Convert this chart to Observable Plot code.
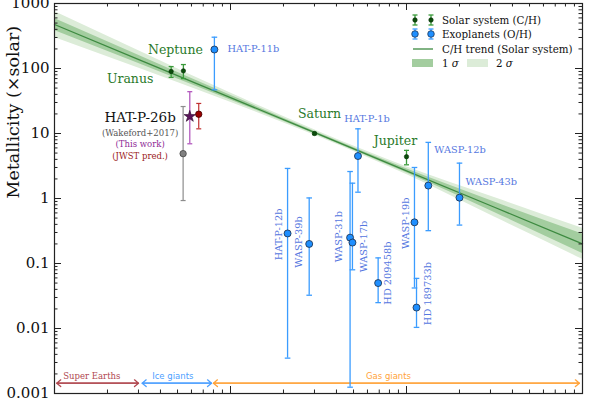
<!DOCTYPE html>
<html><head><meta charset="utf-8">
<script src="https://cdn.jsdelivr.net/npm/d3@7"></script>
<script src="https://cdn.jsdelivr.net/npm/@observablehq/plot@0.6"></script>
<style>
body{margin:0;background:#fff}
#wrap{position:relative;width:598px;height:399px;overflow:hidden;background:#fff}
.leg{position:absolute;font-family:"DejaVu Serif",serif;font-size:10.3px;color:#111;white-space:nowrap;line-height:14px;height:14px}
.leg svg{position:absolute;top:0}
</style></head><body><div id="wrap"></div>
<script>
// ---------- data ----------
const ssNames = ["Uranus", "Neptune", "Saturn", "Jupiter"];
const ssMass  = [0.046, 0.054, 0.30, 1.0];
const ssMet   = [90, 92, 10, 4.4];
const ssLo    = [73, 70, 9.6, 3.3];
const ssHi    = [107, 115, 10.4, 5.5];

const exoNames = ["HAT-P-11b", "HAT-P-12b", "WASP-39b", "WASP-31b", "WASP-17b", "HAT-P-1b", "HD 209458b", "WASP-19b", "HD 189733b", "WASP-12b", "WASP-43b"];
const exoMass  = [0.081, 0.211, 0.28, 0.478, 0.493, 0.53, 0.69, 1.11, 1.14, 1.33, 2.0];
const exoMet   = [196, 0.29, 0.20, 0.25, 0.21, 4.5, 0.05, 0.43, 0.021, 1.58, 1.03];
const exoLo    = [47, 0.0035, 0.0325, 0.00125, 0.08, 1.25, 0.025, 0.042, 0.0104, 0.32, 0.39];
const exoHi    = [303, 2.9, 1.02, 2.6, 1.72, 11.8, 0.122, 3.0, 0.059, 7.3, 3.5];

const hpNames = ["Wakeford+2017", "This work", "JWST pred."];
const hpMass  = [0.0538, 0.0587, 0.066];
const hpMet   = [4.9, 18.3, 19.8];
const hpLo    = [0.93, 6.95, 11.8];
const hpHi    = [26, 44, 29];

const trendMass = [0.01, 0.0316, 0.1, 0.316, 1, 3.16, 10];
const trendMet  = [475, 130, 35.6, 9.77, 2.67, 0.733, 0.201];
const sig1Lo    = [385, 113.5, 32.9, 9.33, 2.49, 0.61, 0.142];
const sig1Hi    = [588, 150, 38.6, 10.2, 2.86, 0.881, 0.284];
const sig2Lo    = [300, 96.6, 30.3, 8.9, 2.33, 0.519, 0.116];
const sig2Hi    = [753, 176, 41.9, 10.7, 3.07, 1.035, 0.349];

const classNames = ["Super Earths", "Ice giants", "Gas giants"];
const classStart = [0.0103, 0.0315, 0.080];
const classEnd   = [0.0300, 0.078, 9.6];
const classLabelMass = [0.0163, 0.047, 0.79];
const classArrowMet = 0.00144;
const classLabelMet = 0.00187;

const yTicks = [0.001, 0.01, 0.1, 1, 10, 100, 1000];
const yTickLabels = ["0.001", "0.01", "0.1", "1", "10", "100", "1000"];
const xTicks = [0.01, 0.1, 1, 10];
const minorMult = [2, 3, 4, 5, 6, 7, 8, 9];

// ---------- tables ----------
const ss = ssNames.map((n, i) => ({name: n, m: ssMass[i], v: ssMet[i], lo: ssLo[i], hi: ssHi[i]}));
const exo = exoNames.map((n, i) => ({name: n, m: exoMass[i], v: exoMet[i], lo: exoLo[i], hi: exoHi[i]}));
const hp = hpNames.map((n, i) => ({name: n, m: hpMass[i], v: hpMet[i], lo: hpLo[i], hi: hpHi[i]}));
const trend = trendMass.map((m, i) => ({m, v: trendMet[i], l1: sig1Lo[i], h1: sig1Hi[i], l2: sig2Lo[i], h2: sig2Hi[i]}));
const classes = classNames.map((n, i) => ({name: n, a: classStart[i], b: classEnd[i], lm: classLabelMass[i]}));
const yMinor = yTicks.slice(0, -1).flatMap(t => minorMult.map(k => t * k));
const xMinor = xTicks.slice(0, -1).flatMap(t => minorMult.map(k => t * k));

// ---------- styles ----------
const FONT = "DejaVu Serif";
const C = {
  green: "#3a9a3a", greenDot: "#0b4d0b", greenText: "#2a7a2a", trend: "#3d8a40",
  s1: "#a3cd9f", s2: "#dcecd8",
  blue: "#3b9cff", blueDot: "#1f8fff", blueText: "#5577e0",
  gray: "#8c8c8c", purple: "#b45bbf", red: "#c03030",
  classColors: ["#b0474f", "#4da0ff", "#ffa33a"]
};
const capSym = {draw(ctx, size) { const w = Math.sqrt(size / Math.PI); ctx.moveTo(-w, 0); ctx.lineTo(w, 0); }};

const ssLabelOff = {Uranus: [-41, 8], Neptune: [-8, -21], Saturn: [5, -20], Jupiter: [-11, -16]};
const exoLabelOff = {
  "HAT-P-11b": [13, -1, 0, "start"], "HAT-P-1b": [9, -37, 0, "middle"], "WASP-12b": [6, -36, 0, "start"],
  "WASP-43b": [6, -16, 0, "start"], "HAT-P-12b": [-9, 1, -90, "middle"], "WASP-39b": [-10, -2, -90, "middle"],
  "WASP-31b": [-11, -1, -90, "middle"], "WASP-17b": [11, 4, -90, "middle"], "HD 209458b": [10, -10, -90, "middle"],
  "WASP-19b": [-9, 1, -90, "middle"], "HD 189733b": [11, -14, -90, "middle"]
};

const PW = 598 - 54 - 16, PH = 399 - 3 - 6;

function errorMarks(data, color, capR, sw) {
  return [
    Plot.ruleX(data, {x: "m", y1: "lo", y2: "hi", stroke: color, strokeWidth: sw}),
    Plot.dot(data, {x: "m", y: "lo", symbol: capSym, r: capR, stroke: color, strokeWidth: sw}),
    Plot.dot(data, {x: "m", y: "hi", symbol: capSym, r: capR, stroke: color, strokeWidth: sw})
  ];
}

const chart = Plot.plot({
  width: 598, height: 399,
  marginLeft: 54, marginRight: 16, marginTop: 3, marginBottom: 6,
  x: {type: "log", domain: [0.01, 10], axis: null},
  y: {type: "log", domain: [0.001, 1000], axis: null},
  style: {fontFamily: FONT, background: "white", overflow: "visible"},
  marks: [
    Plot.areaY(trend, {x: "m", y1: "l2", y2: "h2", fill: C.s2, curve: "monotone-x"}),
    Plot.areaY(trend, {x: "m", y1: "l1", y2: "h1", fill: C.s1, curve: "monotone-x"}),
    Plot.line(trend, {x: "m", y: "v", stroke: C.trend, strokeWidth: 1.3}),

    // class arrows
    Plot.arrow(classes, {x1: "a", x2: "b", y1: classArrowMet, y2: classArrowMet, stroke: (d, i) => C.classColors[i], strokeWidth: 1.3, headLength: 6, headAngle: 80}),
    Plot.arrow(classes, {x1: "b", x2: "a", y1: classArrowMet, y2: classArrowMet, stroke: (d, i) => C.classColors[i], strokeWidth: 1.3, headLength: 6, headAngle: 80}),
    ...classes.map((d, i) => Plot.text([d], {x: "lm", y: classLabelMet, text: "name", fill: C.classColors[i], fontSize: 8.5, fontFamily: i === 0 ? FONT : "DejaVu Sans"})),

    // error bars
    ...errorMarks(exo, C.blue, 2.8, 1.3),
    ...errorMarks(ss, C.green, 2.5, 1.3),
    ...errorMarks([hp[0]], C.gray, 2.5, 1.2),
    ...errorMarks([hp[1]], C.purple, 2.5, 1.3),
    ...errorMarks([hp[2]], C.red, 2.5, 1.2),

    // points
    Plot.dot(exo, {x: "m", y: "v", r: 3.5, fill: C.blueDot, stroke: "#1b2b44", strokeWidth: 0.8}),
    Plot.dot(ss, {x: "m", y: "v", r: 2.2, fill: C.greenDot, stroke: "#062e06", strokeWidth: 0.6}),
    Plot.dot([hp[0]], {x: "m", y: "v", r: 3.2, fill: "#808080", stroke: "#444", strokeWidth: 0.8}),
    Plot.dot([hp[1]], {x: "m", y: "v", r: 3.6, symbol: "star", fill: "#5c165c", stroke: "#2a0a2a", strokeWidth: 0.6}),
    Plot.dot([hp[2]], {x: "m", y: "v", r: 3.2, fill: "#9b0000", stroke: "#400", strokeWidth: 0.8}),

    // labels
    ...ss.map(d => Plot.text([d], {x: "m", y: "v", text: "name", dx: ssLabelOff[d.name][0], dy: ssLabelOff[d.name][1], fill: C.greenText, fontSize: 12.5})),
    ...exo.map(d => { const o = exoLabelOff[d.name]; return Plot.text([d], {x: "m", y: "v", text: "name", dx: o[0], dy: o[1], rotate: o[2], textAnchor: o[3], fill: C.blueText, fontSize: 9.8}); }),
    Plot.text([hp[0]], {x: "m", y: "v", text: () => "HAT-P-26b", dx: -43, dy: -36, fontSize: 13.5, fill: "#111"}),
    Plot.text([hp[0]], {x: "m", y: "v", text: d => `(${hpNames[0]})`, dx: -43, dy: -20.5, fontSize: 8.5, fill: "#555"}),
    Plot.text([hp[0]], {x: "m", y: "v", text: d => `(${hpNames[1]})`, dx: -43, dy: -9, fontSize: 8.5, fill: "#8e2a96"}),
    Plot.text([hp[0]], {x: "m", y: "v", text: d => `(${hpNames[2]})`, dx: -43, dy: 2.7, fontSize: 8.5, fill: "#9b1a1a"}),

    // ticks (inward)
    Plot.tickY(yTicks, {y: d => d, insetRight: PW - 7, stroke: "#222"}),
    Plot.tickY(yTicks, {y: d => d, insetLeft: PW - 7, stroke: "#222"}),
    Plot.tickY(yMinor, {y: d => d, insetRight: PW - 3.5, stroke: "#222"}),
    Plot.tickY(yMinor, {y: d => d, insetLeft: PW - 3.5, stroke: "#222"}),
    Plot.tickX(xTicks, {x: d => d, insetTop: PH - 7, stroke: "#222"}),
    Plot.tickX(xTicks, {x: d => d, insetBottom: PH - 7, stroke: "#222"}),
    Plot.tickX(xMinor, {x: d => d, insetTop: PH - 3.5, stroke: "#222"}),
    Plot.tickX(xMinor, {x: d => d, insetBottom: PH - 3.5, stroke: "#222"}),
    Plot.frame({stroke: "#222", strokeWidth: 1.2}),

    // y tick labels & axis label
    Plot.text(yTicks, {y: d => d, text: (d, i) => yTickLabels[i], frameAnchor: "left", textAnchor: "end", dx: -5, fontSize: 15, fill: "#111"}),
    Plot.text(["Metallicity (×solar)"], {text: d => d, frameAnchor: "left", rotate: -90, dx: -41, fontSize: 17.5, fill: "#111"})
  ]
});

const wrap = document.getElementById("wrap");
wrap.appendChild(chart);

// ---------- legend (HTML overlay) ----------
function errSwatch(color, dotFill, dotStroke, r) {
  let s = `<svg width="26" height="14" style="left:0">`;
  for (const cx of [5, 21]) {
    s += `<line x1="${cx}" x2="${cx}" y1="2" y2="12" stroke="${color}" stroke-width="1.3"/>`;
    s += `<line x1="${cx - 2.5}" x2="${cx + 2.5}" y1="2" y2="2" stroke="${color}" stroke-width="1.3"/>`;
    s += `<line x1="${cx - 2.5}" x2="${cx + 2.5}" y1="12" y2="12" stroke="${color}" stroke-width="1.3"/>`;
    s += `<circle cx="${cx}" cy="7" r="${r}" fill="${dotFill}" stroke="${dotStroke}" stroke-width="0.7"/>`;
  }
  return s + `</svg>`;
}
const legendRows = [
  {top: 13, html: errSwatch(C.green, C.greenDot, "#062e06", 2.2), label: "Solar system (C/H)"},
  {top: 27, html: errSwatch(C.blue, C.blueDot, "#1b2b44", 3.3), label: "Exoplanets (O/H)"},
  {top: 42, html: `<svg width="26" height="14" style="left:0"><line x1="3" x2="23" y1="7" y2="7" stroke="${C.trend}" stroke-width="1.3"/></svg>`, label: "C/H trend (Solar system)"}
];
for (const r of legendRows) {
  const d = document.createElement("div");
  d.className = "leg";
  d.style.left = "410px"; d.style.top = r.top + "px"; d.style.width = "180px";
  d.innerHTML = r.html + `<span style="position:absolute;left:32px">${r.label}</span>`;
  wrap.appendChild(d);
}
const sig = document.createElement("div");
sig.className = "leg";
sig.style.left = "410px"; sig.style.top = "56px"; sig.style.width = "180px";
sig.innerHTML = `<svg width="26" height="14" style="left:2px"><rect x="0" y="3" width="21" height="8" fill="${C.s1}"/></svg>` +
  `<span style="position:absolute;left:32px">1 <i>σ</i></span>` +
  `<svg width="26" height="14" style="left:57px"><rect x="0" y="3" width="21" height="8" fill="${C.s2}"/></svg>` +
  `<span style="position:absolute;left:86px">2 <i>σ</i></span>`;
wrap.appendChild(sig);
</script>
</body></html>
